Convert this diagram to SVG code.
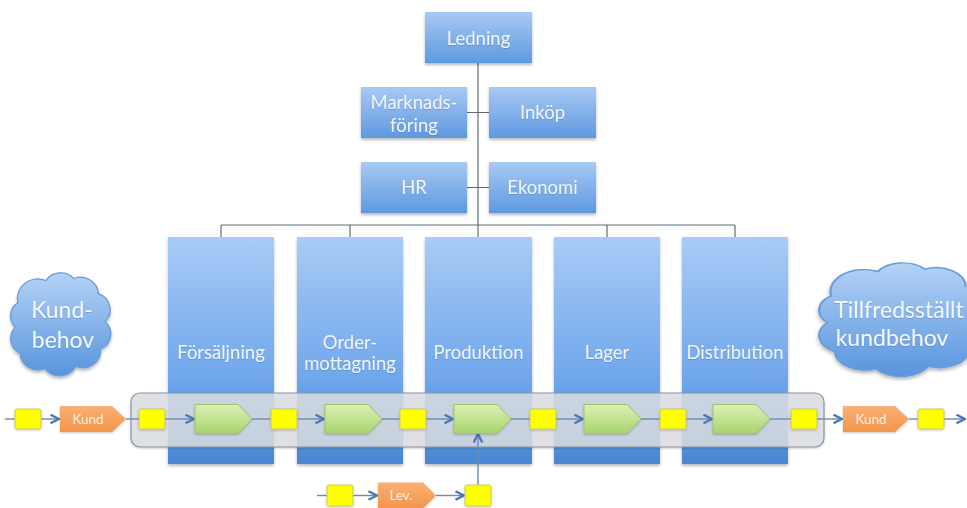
<svg xmlns="http://www.w3.org/2000/svg" width="967" height="508" viewBox="0 0 967 508">
  <defs>
    <linearGradient id="tallGrad" x1="0" y1="0" x2="0" y2="1">
      <stop offset="0" stop-color="#a9cbf6"/>
      <stop offset="0.6" stop-color="#72a8ec"/>
      <stop offset="1" stop-color="#4a87d4"/>
    </linearGradient>
    <linearGradient id="smallGrad" x1="0" y1="0" x2="0" y2="1">
      <stop offset="0" stop-color="#a8c9f4"/>
      <stop offset="1" stop-color="#5e99e0"/>
    </linearGradient>
    <linearGradient id="cloudGrad" x1="0" y1="0" x2="0" y2="1">
      <stop offset="0" stop-color="#b4d3f7"/>
      <stop offset="1" stop-color="#5894dd"/>
    </linearGradient>
    <linearGradient id="greenGrad" x1="0" y1="0" x2="0" y2="1">
      <stop offset="0" stop-color="#dcf0b6"/>
      <stop offset="1" stop-color="#a9d46c"/>
    </linearGradient>
    <linearGradient id="orangeGrad" x1="0" y1="0" x2="0" y2="1">
      <stop offset="0" stop-color="#f9b075"/>
      <stop offset="1" stop-color="#f3954a"/>
    </linearGradient>
    <filter id="shadow" x="-10%" y="-10%" width="120%" height="130%">
      <feDropShadow dx="0" dy="2" stdDeviation="1.5" flood-color="#000" flood-opacity="0.28"/>
    </filter>
    <filter id="soft" x="-10%" y="-10%" width="120%" height="130%">
      <feDropShadow dx="0" dy="1" stdDeviation="1" flood-color="#000" flood-opacity="0.22"/>
    </filter>
    <filter id="txtShadow" x="-5%" y="-20%" width="110%" height="140%">
      <feDropShadow dx="0" dy="0.6" stdDeviation="0.7" flood-color="#2a4f86" flood-opacity="0.45"/>
    </filter>
    <marker id="arrow" viewBox="0 0 11 11" refX="10" refY="5.5" markerWidth="11" markerHeight="11" markerUnits="userSpaceOnUse" orient="auto">
      <path d="M1.5,1.2 L10,5.5 L1.5,9.8" fill="none" stroke="#4c78b2" stroke-width="2.4" stroke-linejoin="miter"/>
    </marker>
    <!-- cloud outline in a ~100x100 local frame -->
    <path id="cloudShape" d="M20,35 a18,18 0 0 1 25,-20 a16,16 0 0 1 25,-2 a16,16 0 0 1 22,14 a15,15 0 0 1 6,25 a15,15 0 0 1 -4,25 a16,16 0 0 1 -22,16 a17,17 0 0 1 -28,2 a16,16 0 0 1 -22,-14 a15,15 0 0 1 -4,-24 a14,14 0 0 1 2,-22 z"/>
  </defs>
  <style>
    text { font-family: Lato, "Open Sans", "Liberation Sans", sans-serif; text-anchor: middle; }
    .box { fill: url(#smallGrad); filter: url(#shadow); }
    .tall { fill: url(#tallGrad); filter: url(#shadow); }
    .lbl { font-size: 18.5px; fill: #f0f5fc; filter: url(#txtShadow); }
    .cloud { fill: url(#cloudGrad); stroke: #6a9dd8; stroke-width: 1.2; filter: url(#shadow); }
    .cloudtxt { font-size: 23px; fill: #f4f8fe; filter: url(#txtShadow); }
    .org { fill: none; stroke: #5f6c7a; stroke-width: 1.2; }
    .flow { fill: none; stroke: #6b8bb8; stroke-width: 1.4; }
    .arr { marker-end: url(#arrow); }
    .yel { fill: #ffff00; stroke: #c9c86a; stroke-width: 1; filter: url(#soft); }
    .grn { fill: url(#greenGrad); stroke: #9fc46a; stroke-width: 1; filter: url(#soft); }
    .org-step { fill: url(#orangeGrad); filter: url(#soft); }
    .small { font-size: 13.5px; fill: #fdeee2; }
  </style>

  <rect width="967" height="508" fill="#ffffff"/>

  <!-- org chart connectors -->
  <g id="org-connectors">
    <path class="org" d="M478,63 V225 M221,225 H735 M221,225 V237 M350,225 V237 M478,225 V237 M607,225 V237 M735,225 V237 M467,112.5 H489 M467,187.5 H489"/>
  </g>

  <!-- management and staff functions -->
  <g id="ledning"><rect class="box" x="425" y="12" width="107" height="51"/><text class="lbl" x="478.5" y="44.5">Ledning</text></g>
  <g id="marknadsforing"><rect class="box" x="361" y="87" width="106" height="51"/><text class="lbl" x="414" y="108.5">Marknads-</text><text class="lbl" x="414" y="132">föring</text></g>
  <g id="inkop"><rect class="box" x="489" y="87" width="107" height="51"/><text class="lbl" x="542.5" y="119">Inköp</text></g>
  <g id="hr"><rect class="box" x="361" y="162" width="106" height="51"/><text class="lbl" x="414" y="194">HR</text></g>
  <g id="ekonomi"><rect class="box" x="489" y="162" width="107" height="51"/><text class="lbl" x="542.5" y="194">Ekonomi</text></g>

  <!-- line departments -->
  <g id="forsaljning"><rect class="tall" x="168" y="237" width="106" height="227"/><text class="lbl" x="221" y="359">Försäljning</text></g>
  <g id="ordermottagning"><rect class="tall" x="297" y="237" width="106" height="227"/><text class="lbl" x="350" y="348.5">Order-</text><text class="lbl" x="350" y="369.5">mottagning</text></g>
  <g id="produktion"><rect class="tall" x="425" y="237" width="107" height="227"/><text class="lbl" x="478.5" y="359">Produktion</text></g>
  <g id="lager"><rect class="tall" x="554" y="237" width="106" height="227"/><text class="lbl" x="607" y="359">Lager</text></g>
  <g id="distribution"><rect class="tall" x="682" y="237" width="106" height="227"/><text class="lbl" x="735" y="359">Distribution</text></g>

  <!-- clouds -->
  <g id="kundbehov">
    <use href="#cloudShape" class="cloud" transform="translate(-4.6,264.2) scale(1.12,1.1)" style="vector-effect:non-scaling-stroke"/>
    <text class="cloudtxt" x="62" y="318">Kund-</text>
    <text class="cloudtxt" x="63" y="348">behov</text>
  </g>
  <g id="tillfredsstallt-kundbehov">
    <use href="#cloudShape" class="cloud" transform="translate(793.7,253.3) scale(1.87,1.215)" style="vector-effect:non-scaling-stroke"/>
    <text class="cloudtxt" x="899" y="318">Tillfredsställt</text>
    <text class="cloudtxt" x="892" y="346">kundbehov</text>
  </g>

  <!-- process band -->
  <g id="process-band">
    <rect x="131" y="393" width="693" height="54" rx="9" fill="#dcdfe4" fill-opacity="0.84" stroke="#8593a8" stroke-width="1.2" filter="url(#soft)"/>
  </g>

  <!-- flow connectors -->
  <g id="flow-connectors">
    <path class="flow" d="M5,419 H15"/>
    <path class="flow arr" d="M41,419 H59"/>
    <path class="flow" d="M126,419 H139"/>
    <path class="flow arr" d="M165,419 H194"/>
    <path class="flow" d="M252,419 H271"/>
    <path class="flow arr" d="M297,419 H324"/>
    <path class="flow" d="M382,419 H400"/>
    <path class="flow arr" d="M426,419 H453"/>
    <path class="flow" d="M511,419 H530"/>
    <path class="flow arr" d="M556,419 H583"/>
    <path class="flow" d="M641,419 H660"/>
    <path class="flow arr" d="M686,419 H712"/>
    <path class="flow" d="M770,419 H791"/>
    <path class="flow arr" d="M817,419 H842"/>
    <path class="flow" d="M909,419 H918"/>
    <path class="flow arr" d="M944,419 H965"/>
    <path class="flow" d="M317,495.5 H327"/>
    <path class="flow arr" d="M353,495.5 H377"/>
    <path class="flow arr" d="M436,495.5 H464"/>
    <path class="flow arr" d="M478,485 V434"/>
  </g>

  <!-- information / material buffers -->
  <g id="buffer-1"><rect class="yel" x="15" y="409" width="26" height="20" rx="1.5"/></g>
  <g id="buffer-2"><rect class="yel" x="139" y="409" width="26" height="20" rx="1.5"/></g>
  <g id="buffer-3"><rect class="yel" x="271" y="409" width="26" height="20" rx="1.5"/></g>
  <g id="buffer-4"><rect class="yel" x="400" y="409" width="26" height="20" rx="1.5"/></g>
  <g id="buffer-5"><rect class="yel" x="530" y="409" width="26" height="20" rx="1.5"/></g>
  <g id="buffer-6"><rect class="yel" x="660" y="409" width="26" height="20" rx="1.5"/></g>
  <g id="buffer-7"><rect class="yel" x="791" y="409" width="26" height="20" rx="1.5"/></g>
  <g id="buffer-8"><rect class="yel" x="918" y="409" width="26" height="20" rx="1.5"/></g>
  <g id="buffer-lev-1"><rect class="yel" x="327" y="485" width="26" height="21" rx="1.5"/></g>
  <g id="buffer-lev-2"><rect class="yel" x="465" y="485" width="26" height="21" rx="1.5"/></g>

  <!-- process steps -->
  <g id="step-forsaljning"><path class="grn" d="M195,404.5 h43 l14,14.5 l-14,14.5 h-43 z"/></g>
  <g id="step-ordermottagning"><path class="grn" d="M325,404.5 h43 l14,14.5 l-14,14.5 h-43 z"/></g>
  <g id="step-produktion"><path class="grn" d="M454,404.5 h43 l14,14.5 l-14,14.5 h-43 z"/></g>
  <g id="step-lager"><path class="grn" d="M584,404.5 h43 l14,14.5 l-14,14.5 h-43 z"/></g>
  <g id="step-distribution"><path class="grn" d="M713,404.5 h43 l14,14.5 l-14,14.5 h-43 z"/></g>

  <!-- external parties -->
  <g id="kund-in"><path class="org-step" d="M60,406 h52 l14,13 l-14,13 h-52 z"/><text class="small" x="88" y="423.5">Kund</text></g>
  <g id="kund-out"><path class="org-step" d="M843,406 h52 l14,13 l-14,13 h-52 z"/><text class="small" x="871" y="423.5">Kund</text></g>
  <g id="lev"><path class="org-step" d="M378,482.5 h45 l13,13 l-13,13 h-45 z"/><text class="small" x="401" y="500">Lev.</text></g>
</svg>
